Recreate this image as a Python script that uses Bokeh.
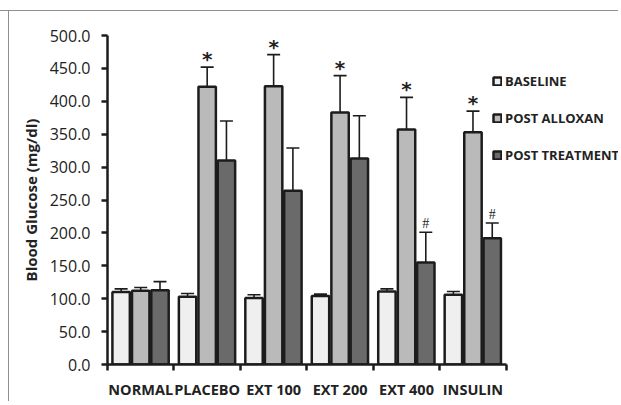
from bokeh.plotting import figure
from bokeh.models import (Range1d, FixedTicker, PrintfTickFormatter, Whisker,
                          ColumnDataSource, Legend, LegendItem, TeeHead)
from bokeh.core.properties import value
from bokeh.embed import file_html
from bokeh.resources import INLINE

# ---- data ----
groups = ["NORMAL", "PLACEBO", "EXT 100", "EXT 200", "EXT 400", "INSULIN"]
series = ["BASELINE", "POST ALLOXAN", "POST TREATMENT"]
baseline = [110, 103, 101, 104, 111, 106]
baseline_err = [5, 5, 5, 3, 4, 5]
alloxan = [112, 422, 423, 383, 357, 353]
alloxan_err = [5, 30, 48, 56, 49, 32]
treatment = [113, 310, 264, 313, 155, 192]
treatment_err = [13, 60, 65, 65, 46, 23]
alloxan_marks = ["", "*", "*", "*", "*", "*"]
treatment_marks = ["", "", "", "", "#", "#"]
y_ticks = [0, 50, 100, 150, 200, 250, 300, 350, 400, 450, 500]

# ---- styling ----
fills = ["#efefef", "#bababa", "#6a6a6a"]
offsets = [-0.295, 0.0, 0.29]
bar_w = 0.262
edge = "#1c1c1c"
frame_gray = "#8f8f8f"
n = len(groups)
x_end = 7.69  # frame extends right so the legend fits inside it

p = figure(width=618, height=401, output_backend="svg", toolbar_location=None,
           x_range=Range1d(0, x_end), y_range=Range1d(0, 500),
           min_border_left=107, min_border_top=35, min_border_bottom=37,
           min_border_right=0)
p.styles = {
    "background-image": f"linear-gradient({frame_gray},{frame_gray}), linear-gradient({frame_gray},{frame_gray})",
    "background-size": "100% 1px, 1px 100%",
    "background-position": "0px 10px, 8px 10px",
    "background-repeat": "no-repeat",
}
p.border_fill_color = None
p.background_fill_color = None
p.outline_line_color = None
p.grid.visible = False

centers = [i + 0.5 for i in range(n)]
renderers = []
for k, (vals, errs) in enumerate([(baseline, baseline_err),
                                  (alloxan, alloxan_err),
                                  (treatment, treatment_err)]):
    xs = [c + offsets[k] for c in centers]
    src = ColumnDataSource(dict(x=xs, top=vals,
                                upper=[v + e for v, e in zip(vals, errs)],
                                lower=[v - e for v, e in zip(vals, errs)]))
    r = p.vbar(x="x", top="top", width=bar_w, source=src, fill_color=fills[k],
               line_color=edge, line_width=2.5)
    renderers.append(r)
    w = Whisker(base="x", upper="upper", lower="lower", source=src,
                line_color=edge, line_width=1.6,
                upper_head=TeeHead(size=13, line_color=edge, line_width=1.6),
                lower_head=TeeHead(size=13, line_color=edge, line_width=1.6))
    p.add_layout(w)
    if k == 1:
        p.text(x=xs, y=src.data["upper"], text=alloxan_marks,
               text_align="center", text_baseline="alphabetic", y_offset=-8,
               text_font=value("DejaVu Sans"), text_font_size="20px",
               text_font_style="bold", text_color="#222222")
    if k == 2:
        p.text(x=xs, y=src.data["upper"], text=treatment_marks,
               text_align="center", text_baseline="alphabetic", y_offset=-9,
               text_font=value("Liberation Serif"), text_font_size="14px",
               text_color="#222222")

# axes
p.yaxis.ticker = FixedTicker(ticks=y_ticks)
p.yaxis.formatter = PrintfTickFormatter(format="%.1f")
p.yaxis.major_tick_out = 6
p.yaxis.major_tick_in = 0
p.yaxis.minor_tick_out = 0
p.yaxis.minor_tick_in = 0
p.yaxis.major_label_standoff = 11
p.yaxis.major_label_text_font = "Open Sans"
p.yaxis.major_label_text_font_size = "16px"
p.yaxis.major_label_text_color = "#222222"
p.yaxis.axis_label = "Blood Glucose (mg/dl)"
p.yaxis.axis_label_text_font = "Open Sans"
p.yaxis.axis_label_text_font_style = "bold"
p.yaxis.axis_label_text_font_size = "15px"
p.yaxis.axis_label_text_color = "#222222"
p.yaxis.axis_label_standoff = 6

p.xaxis.bounds = (0, n)
p.xaxis.ticker = FixedTicker(ticks=centers, minor_ticks=list(range(n + 1)))
p.xaxis.major_label_overrides = {c: g for c, g in zip(centers, groups)}
p.xaxis.major_tick_out = 0
p.xaxis.major_tick_in = 0
p.xaxis.minor_tick_out = 6
p.xaxis.minor_tick_in = 0
p.xaxis.major_label_standoff = 9
p.xaxis.major_label_text_font = "Open Sans"
p.xaxis.major_label_text_font_style = "bold"
p.xaxis.major_label_text_font_size = "14.5px"
p.xaxis.major_label_text_color = "#222222"

for ax in (p.xaxis, p.yaxis):
    ax.axis_line_width = 2.5
    ax.axis_line_color = edge
    ax.major_tick_line_width = 2.5
    ax.major_tick_line_color = edge
    ax.minor_tick_line_width = 2.5
    ax.minor_tick_line_color = edge

legend = Legend(items=[LegendItem(label=s, renderers=[r]) for s, r in zip(series, renderers)],
                location=(385, 200), orientation="vertical",
                glyph_width=10, glyph_height=10, label_height=14, spacing=19,
                padding=0, margin=0, label_standoff=3,
                label_text_font="Open Sans", label_text_font_style="bold",
                label_text_font_size="13px", label_text_color="#222222",
                border_line_color=None, background_fill_alpha=0)
p.add_layout(legend)

open("out.html", "w").write(file_html(p, INLINE))
